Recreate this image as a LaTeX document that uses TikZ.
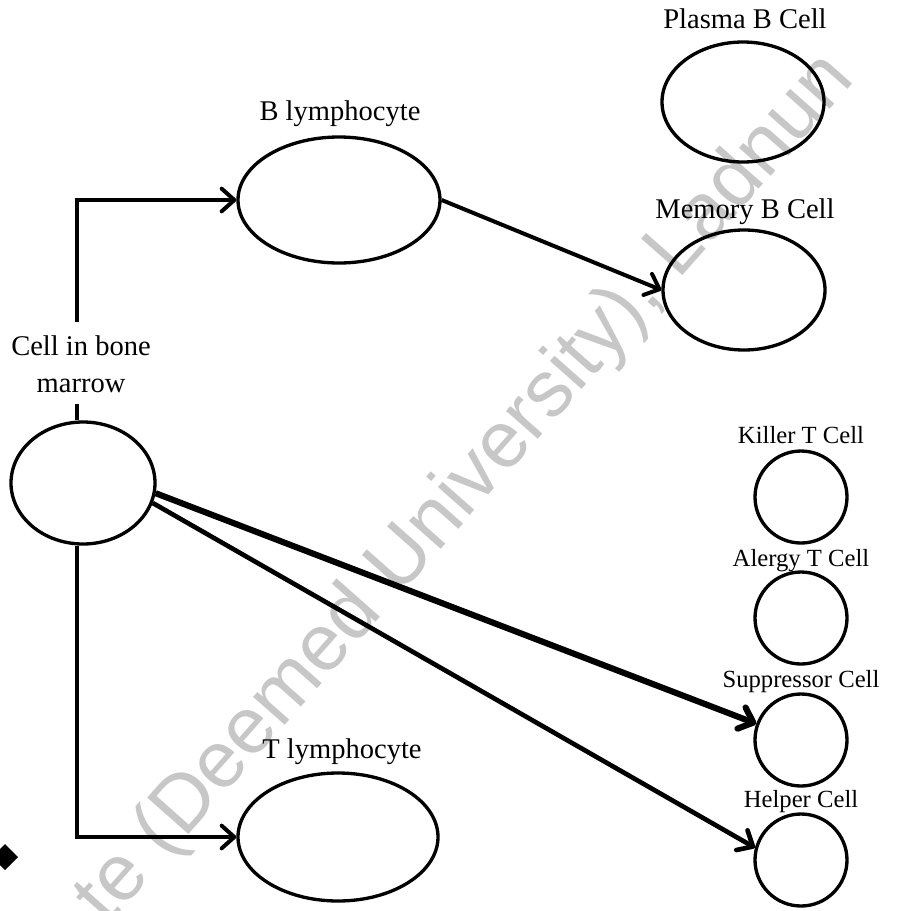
\documentclass[tikz,border=0pt]{standalone}
\usepackage{fontspec}
\setmainfont{Liberation Serif}
\newfontfamily\wmfont{Liberation Sans}
\usetikzlibrary{arrows.meta,shapes.geometric}
\begin{document}
\begin{tikzpicture}[x=0.75pt,y=-0.75pt,
  cellshape/.style={draw, ellipse, line width=2.5pt, inner sep=0pt},
  roundcell/.style={draw, circle, line width=2.5pt, inner sep=0pt, minimum size=69pt},
  biglbl/.style={font=\fontsize{21.4}{27.75}\selectfont, inner sep=0pt, anchor=base},
  smalllbl/.style={font=\fontsize{18.5}{22}\selectfont, inner sep=0pt, anchor=base},
  conn/.style={line width=3pt, -{Straight Barb[length=9.5pt,width=17pt,round]}},
  plainline/.style={line width=3pt},
  watermark/.style={rotate=48.5, anchor=base east, text=black!22, font=\wmfont\fontsize{60}{60}\selectfont, inner sep=0pt}
]
\useasboundingbox (0,0) rectangle (905,911);

% watermark
\node[watermark] (wm) at (856,80) {te (Deemed University), Ladnun};

% cells
\node[cellshape, minimum width=121.5pt, minimum height=90pt] (plasma) at (743,102) {};
\node[cellshape, minimum width=121.5pt, minimum height=90pt] (mem) at (744,290) {};
\node[cellshape, minimum width=151.5pt, minimum height=94.5pt] (B) at (339,200) {};
\node[cellshape, minimum width=150pt, minimum height=96pt] (T) at (338,837) {};
\node[cellshape, minimum width=108pt, minimum height=91.5pt] (cell) at (83,483) {};
\node[roundcell] (killer) at (801,497) {};
\node[roundcell] (alergy) at (801,618) {};
\node[roundcell] (supp) at (801,740) {};
\node[roundcell] (helper) at (801,860) {};

% labels
\node[biglbl] (lplasma) at (745,28) {Plasma B Cell};
\node[biglbl] (lmem) at (745,218) {Memory B Cell};
\node[biglbl] (lB) at (340,120) {B lymphocyte};
\node[biglbl] (lT) at (342,758) {T lymphocyte};
\node[biglbl, align=center, anchor=north] (lcell) at (81,335) {Cell in bone\\marrow};
\node[smalllbl] (lkiller) at (801,443) {Killer T Cell};
\node[smalllbl] (lalergy) at (801,566) {Alergy T Cell};
\node[smalllbl] (lsupp) at (801,687) {Suppressor Cell};
\node[smalllbl] (lhelper) at (801,807) {Helper Cell};

% connector helper points
\coordinate (top1) at (77,322);
\coordinate (stub) at (77,404);

% connectors
\draw[conn] (top1) |- (B.west);
\draw[plainline] (cell.north -| stub) -- (stub);
\draw[conn] (cell.south -| stub) |- (T.west);
\draw[conn] (B.east) -- (mem.west);
\draw[conn, line width=4.6pt] (cell.-8) -- (supp.160);
\draw[conn, line width=3.5pt] (cell.-16) -- (helper.165);

% diamond mark
\fill (5,844) -- (18,857) -- (5,870) -- (-8,857) -- cycle;
\end{tikzpicture}
\end{document}
